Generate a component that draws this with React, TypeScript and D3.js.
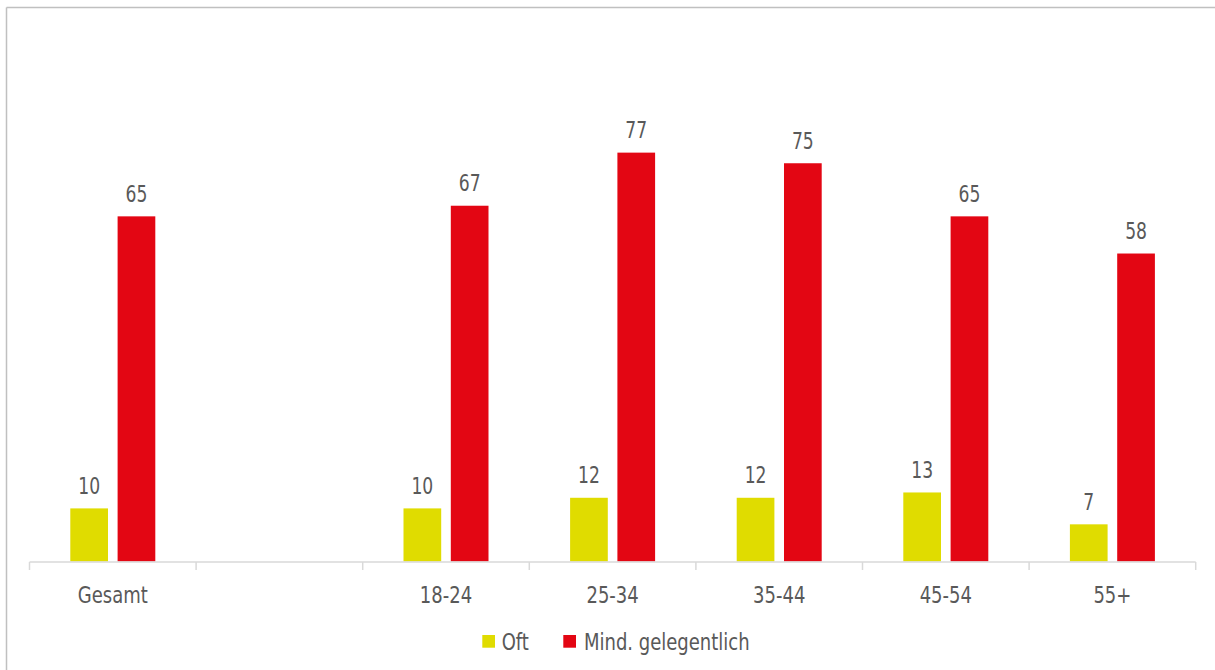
import React from "react";
import * as d3 from "d3";

const categories = ["Gesamt", "", "18-24", "25-34", "35-44", "45-54", "55+"];
const seriesNames = ["Oft", "Mind. gelegentlich"];
const oftValues: (number | null)[] = [10, null, 10, 12, 12, 13, 7];
const mindValues: (number | null)[] = [65, null, 67, 77, 75, 65, 58];
const seriesColors = ["#E0DC00", "#E30613"];

const W = 1215;
const H = 670;
const FONT = "'DejaVu Sans Condensed', 'DejaVu Sans', Roboto, sans-serif";
const TEXT = "#595959";

function T({ x, y, anchor = "start", sx = 0.87, size = 23, children }: any) {
  return (
    <text
      transform={`translate(${x},${y}) scale(${sx},1)`}
      textAnchor={anchor}
      fontSize={size}
      fill={TEXT}
    >
      {children}
    </text>
  );
}

export default function App() {
  const x = d3.scaleBand<string>().domain(categories.map((c, i) => String(i))).range([29.5, 1195.7]).padding(0);
  const inner = d3.scaleBand<string>().domain(seriesNames).range([-42.5, 42.5]).paddingInner(0.203).paddingOuter(0);
  const y = d3.scaleLinear().domain([0, 100]).range([561.5, 30.5]);
  const series = [oftValues, mindValues];
  const ticks = d3.range(categories.length + 1).map((i) => 29.5 + i * x.step());

  return (
    <svg width={W} height={H} style={{ position: "absolute", left: 0, top: 0, background: "#fff" }} fontFamily={FONT}>
      {/* frame */}
      <line x1={6.5} x2={W} y1={7.5} y2={7.5} stroke="#c0c0c0" strokeWidth={1.5} />
      <line x1={6.5} x2={6.5} y1={7.5} y2={H} stroke="#c0c0c0" strokeWidth={1.5} />

      {/* bars */}
      {series.map((vals, si) =>
        vals.map((v, ci) => {
          if (v == null) return null;
          const cx = (x(String(ci)) as number) + x.bandwidth() / 2;
          const bx = cx + (inner(seriesNames[si]) as number);
          const bw = inner.bandwidth();
          return (
            <g key={`${si}-${ci}`}>
              <rect x={bx} y={y(v)} width={bw} height={y(0) - y(v)} fill={seriesColors[si]} />
              <T x={bx + bw / 2} y={y(v) - 14.5} anchor="middle" sx={0.83}>
                {v}
              </T>
            </g>
          );
        })
      )}

      {/* axis */}
      <line x1={29.5} x2={1195.7} y1={562} y2={562} stroke="#d9d9d9" strokeWidth={1.5} />
      {ticks.map((t, i) => (
        <line key={i} x1={t} x2={t} y1={562} y2={570} stroke="#d9d9d9" strokeWidth={1.5} />
      ))}
      {categories.map((c, i) => (
        <T key={c + i} x={(x(String(i)) as number) + x.bandwidth() / 2} y={602.5} anchor="middle">
          {c}
        </T>
      ))}

      {/* legend */}
      <rect x={482.3} y={635} width={12.7} height={12.7} fill={seriesColors[0]} />
      <T x={501.7} y={649.5}>{seriesNames[0]}</T>
      <rect x={563.3} y={635} width={12.7} height={12.7} fill={seriesColors[1]} />
      <T x={584} y={649.5}>{seriesNames[1]}</T>
    </svg>
  );
}
